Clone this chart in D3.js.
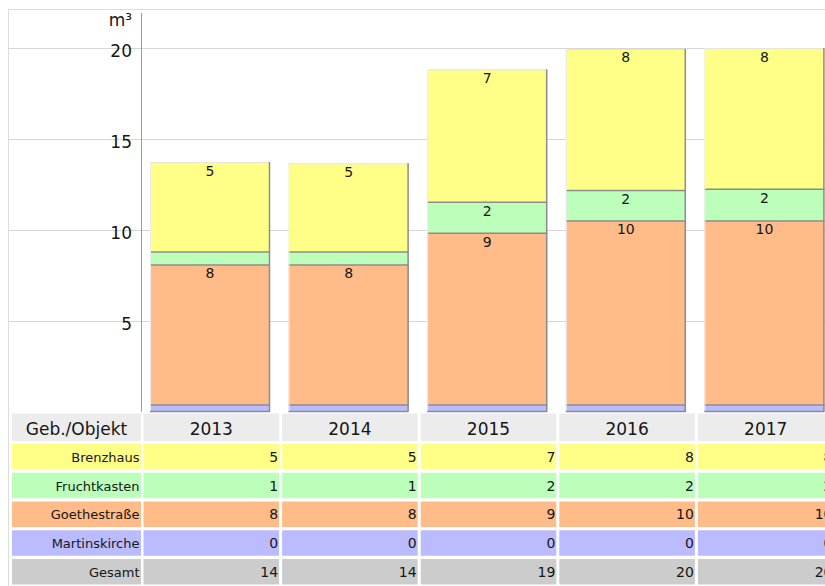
<!DOCTYPE html>
<html>
<head>
<meta charset="utf-8">
<script src="https://cdn.jsdelivr.net/npm/d3@7"></script>
<style>
  html, body { margin: 0; padding: 0; background: #fff; overflow: hidden; }
  svg { display: block; font-family: "DejaVu Sans", Verdana, sans-serif; }
</style>
</head>
<body>
<script>
// ---- data ----
const years = ["2013", "2014", "2015", "2016", "2017"];
const martinskirche = [0.36, 0.36, 0.36, 0.36, 0.36];
const goethestrasse = [7.70, 7.70, 9.44, 10.12, 10.12];
const fruchtkasten  = [0.71, 0.71, 1.71, 1.67, 1.74];
const brenzhaus     = [4.95, 4.88, 7.31, 7.79, 7.77];
const seriesNames  = ["Martinskirche", "Goethestraße", "Fruchtkasten", "Brenzhaus"];
const seriesColors = ["#bbbbff", "#ffbb88", "#bbffbb", "#ffff88"];
const yTicks = [5, 10, 15, 20];
const unitLabel = "m³";
const headerLabel = "Geb./Objekt";
const totalLabel = "Gesamt";

const seriesValues = [martinskirche, goethestrasse, fruchtkasten, brenzhaus];
const table = years.map((yy, i) => {
  const row = { year: yy };
  seriesNames.forEach((s, k) => row[s] = seriesValues[k][i]);
  return row;
});

const W = 900, H = 586;
const TXT = "#161616";
const svg = d3.select("body").append("svg").attr("width", W).attr("height", H);

const x = d3.scaleBand().domain(years).range([142, 835]).padding(0);
const y = d3.scaleLinear().domain([0, 20]).range([411.5, 47.9]);

// frame
svg.append("line").attr("x1", 8.5).attr("x2", 8.5).attr("y1", 9).attr("y2", H)
  .attr("stroke", "#dcdcdc");
svg.append("line").attr("x1", 8).attr("x2", W).attr("y1", 9.5).attr("y2", 9.5)
  .attr("stroke", "#dcdcdc");

// gridlines
svg.append("g").selectAll("line").data(yTicks).join("line")
  .attr("x1", 8).attr("x2", W)
  .attr("y1", d => Math.round(y(d)) + 0.5).attr("y2", d => Math.round(y(d)) + 0.5)
  .attr("stroke", "#d6d6d6");

// axis
const axis = d3.axisLeft(y).tickValues(yTicks).tickSize(0).tickPadding(0);
const gAxis = svg.append("g").attr("transform", "translate(132,0)").call(axis);
gAxis.select(".domain").remove();
gAxis.selectAll("text").attr("font-size", 17).attr("fill", TXT)
  .attr("font-family", "DejaVu Sans, Verdana, sans-serif")
  .attr("dy", "0.5em").attr("x", 0);
svg.append("line").attr("x1", 141.5).attr("x2", 141.5).attr("y1", 13).attr("y2", 411.5)
  .attr("stroke", "#9a9a9a");
svg.append("text").attr("x", 132).attr("y", 26).attr("text-anchor", "end")
  .attr("font-size", 17).attr("fill", TXT).text(unitLabel);

// stacked bars
const stack = d3.stack().keys(seriesNames);
const stacked = stack(table);
const barOff = 8, barW = 120;
const gBars = svg.append("g");
stacked.forEach((layer, k) => {
  gBars.append("g").selectAll("rect").data(layer).join("rect")
    .attr("x", d => x(d.data.year) + barOff)
    .attr("width", barW)
    .attr("y", d => y(d[1]))
    .attr("height", d => y(d[0]) - y(d[1]))
    .attr("fill", seriesColors[k]);
});
// segment separators (dark) and bar edges
stacked.forEach((layer, k) => {
  if (k === stacked.length - 1) return;
  gBars.append("g").selectAll("line").data(layer).join("line")
    .attr("x1", d => x(d.data.year) + barOff)
    .attr("x2", d => x(d.data.year) + barOff + barW)
    .attr("y1", d => y(d[1])).attr("y2", d => y(d[1]))
    .attr("stroke", "#8c8c8c").attr("stroke-width", 1.5);
});
const topLayer = stacked[stacked.length - 1];
gBars.append("g").selectAll("line").data(topLayer).join("line")
  .attr("x1", d => x(d.data.year) + barOff).attr("x2", d => x(d.data.year) + barOff + barW)
  .attr("y1", d => y(d[1]) + 0.5).attr("y2", d => y(d[1]) + 0.5)
  .attr("stroke", "#e4e4e4");
gBars.append("g").selectAll("line").data(topLayer).join("line")
  .attr("x1", d => x(d.data.year) + barOff + 0.5).attr("x2", d => x(d.data.year) + barOff + 0.5)
  .attr("y1", d => y(d[1])).attr("y2", y(0))
  .attr("stroke", "#ececec");
gBars.append("g").selectAll("line").data(topLayer).join("line")
  .attr("x1", d => x(d.data.year) + barOff + barW - 0.5).attr("x2", d => x(d.data.year) + barOff + barW - 0.5)
  .attr("y1", d => y(d[1])).attr("y2", y(0))
  .attr("stroke", "#8c8c8c").attr("stroke-width", 1.5);
gBars.append("g").selectAll("line").data(topLayer).join("line")
  .attr("x1", d => x(d.data.year) + barOff).attr("x2", d => x(d.data.year) + barOff + barW)
  .attr("y1", y(0)).attr("y2", y(0))
  .attr("stroke", "#8c8c8c").attr("stroke-width", 1.5);

// segment labels
stacked.forEach((layer, k) => {
  gBars.append("g").selectAll("text")
    .data(layer.filter(d => (d[1] - d[0]) >= 1))
    .join("text")
    .attr("x", d => x(d.data.year) + barOff + barW / 2)
    .attr("y", d => y(d[1]) + 13.5)
    .attr("text-anchor", "middle")
    .attr("font-size", 14).attr("fill", TXT)
    .text(d => Math.round(d[1] - d[0]));
});

// data table
const rowDefs = [
  { name: "Brenzhaus", color: "#ffff88", vals: brenzhaus },
  { name: "Fruchtkasten", color: "#bbffbb", vals: fruchtkasten },
  { name: "Goethestraße", color: "#ffbb88", vals: goethestrasse },
  { name: "Martinskirche", color: "#bbbbff", vals: martinskirche },
  { name: totalLabel, color: "#cccccc", vals: years.map((yy, i) => seriesValues.reduce((a, s) => a + s[i], 0)) }
];
const gT = svg.append("g");
const labX0 = 12, labX1 = 141;
// header
gT.append("rect").attr("x", labX0).attr("y", 413.5).attr("width", labX1 - labX0).attr("height", 27.5).attr("fill", "#ececec");
gT.append("text").attr("x", (labX0 + labX1) / 2).attr("y", 435).attr("text-anchor", "middle")
  .attr("font-size", 17).attr("fill", TXT).text(headerLabel);
gT.append("g").selectAll("rect").data(years).join("rect")
  .attr("x", d => x(d) + 1.5).attr("width", x.bandwidth() - 3)
  .attr("y", 413.5).attr("height", 27.5).attr("fill", "#ececec");
gT.append("g").selectAll("text").data(years).join("text")
  .attr("x", d => x(d) + x.bandwidth() / 2).attr("y", 435).attr("text-anchor", "middle")
  .attr("font-size", 17).attr("fill", TXT).text(d => d);

rowDefs.forEach((r, i) => {
  const ty = 444 + i * 28.75, th = 25.5;
  gT.append("rect").attr("x", labX0).attr("y", ty).attr("width", labX1 - labX0).attr("height", th).attr("fill", r.color);
  gT.append("text").attr("x", labX1 - 1.5).attr("y", ty + th / 2 + 5).attr("text-anchor", "end")
    .attr("font-size", 13).attr("fill", TXT).text(r.name);
  gT.append("g").selectAll("rect").data(years).join("rect")
    .attr("x", d => x(d) + 1.5).attr("width", x.bandwidth() - 3)
    .attr("y", ty).attr("height", th).attr("fill", r.color);
  gT.append("g").selectAll("text").data(years).join("text")
    .attr("x", d => x(d) + x.bandwidth() - 2.5).attr("y", ty + th / 2 + 5).attr("text-anchor", "end")
    .attr("font-size", 14).attr("fill", TXT)
    .text((d, j) => Math.round(r.vals[j]));
});
</script>
</body>
</html>
